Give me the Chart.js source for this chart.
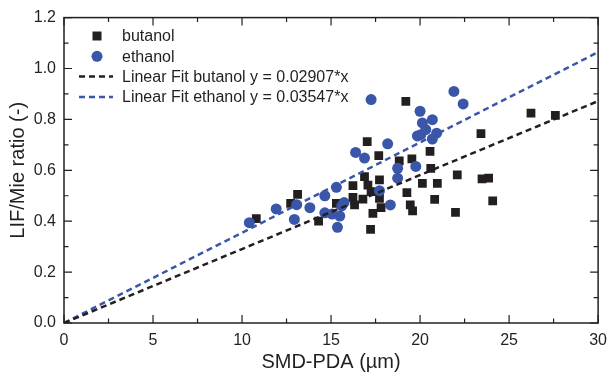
<!DOCTYPE html>
<html>
<head>
<meta charset="utf-8">
<script src="https://cdn.jsdelivr.net/npm/chart.js@4.4.1/dist/chart.umd.min.js"></script>
<style>
  html, body { margin: 0; padding: 0; background: #fff; }
</style>
</head>
<body>
<canvas id="chart" width="615" height="380"></canvas>
<script>
// datos
const butanolX = [10.8, 12.73, 13.12, 14.3, 15.3, 16.23, 16.23, 16.32, 16.79, 16.88, 17.07, 17.25, 17.72, 17.72,
  17.35, 17.81, 17.22, 19.26, 19.45, 19.58, 22.09, 23.48, 23.85, 20.13, 20.97, 20.82, 24.08, 21.99,
  26.23, 27.6, 19.2, 17.03, 17.68, 18.83, 19.54, 23.42, 20.56, 20.6];
const butanolY = [0.41, 0.47, 0.505, 0.40, 0.47, 0.54, 0.494, 0.464, 0.487, 0.575, 0.542, 0.516, 0.562, 0.49,
  0.431, 0.453, 0.368, 0.512, 0.464, 0.441, 0.582, 0.566, 0.569, 0.549, 0.549, 0.486, 0.48, 0.435,
  0.825, 0.816, 0.871, 0.713, 0.658, 0.637, 0.645, 0.744, 0.674, 0.608];

const ethanolX = [10.41, 11.92, 13.07, 12.94, 13.81, 14.65, 14.65, 15.3, 15.73, 15.06, 15.49, 15.36, 17.72,
  18.33, 18.74, 17.25, 18.18, 16.38, 16.88, 18.74, 19.76, 21.9, 22.42, 20.0, 20.69, 20.13, 20.04,
  20.32, 20.93, 20.69, 19.85, 15.6];
const ethanolY = [0.394, 0.448, 0.465, 0.407, 0.453, 0.50, 0.433, 0.533, 0.473, 0.428, 0.42, 0.376, 0.52,
  0.464, 0.569, 0.878, 0.704, 0.67, 0.648, 0.608, 0.615, 0.91, 0.861, 0.832, 0.799, 0.786, 0.74,
  0.76, 0.746, 0.723, 0.735, 0.46];

// rectas de ajuste (extremos)
const fitX = [0, 30];
const butanolFitY = [0, 0.872];
const ethanolFitY = [0, 1.064];

const seriesLabels = ['butanol', 'ethanol', 'Linear Fit butanol y = 0.02907*x', 'Linear Fit ethanol y = 0.03547*x'];
const xTicks = [0, 5, 10, 15, 20, 25, 30];
const yTicks = [0, 0.2, 0.4, 0.6, 0.8, 1.0, 1.2];

const ink = '#231f20';
const blue = '#3a56a9';
const fontFamily = '"Liberation Sans", Arial, Helvetica, sans-serif';

function toPoints(xs, ys) {
    return xs.map((x, i) => ({ x: x, y: ys[i] }));
}

// marco con marcas hacia dentro
const framePlugin = {
    id: 'frame',
    afterDraw(chart) {
        const { ctx, chartArea: a, scales } = chart;
        const x = scales.x, y = scales.y;
        ctx.save();
        ctx.strokeStyle = ink;
        ctx.lineWidth = 1.5;
        ctx.strokeRect(a.left, a.top, a.right - a.left, a.bottom - a.top);

        ctx.lineWidth = 1.2;
        ctx.beginPath();
        for (let v = 0; v <= 30.001; v += 2.5) {
            const px = x.getPixelForValue(v);
            const len = xTicks.includes(v) ? 8 : 4.5;
            ctx.moveTo(px, a.bottom); ctx.lineTo(px, a.bottom - len);
            ctx.moveTo(px, a.top); ctx.lineTo(px, a.top + len);
        }
        for (let i = 0; i <= 12; i++) {
            const v = i / 10;
            const py = y.getPixelForValue(v);
            const len = i % 2 === 0 ? 8 : 4.5;
            ctx.moveTo(a.left, py); ctx.lineTo(a.left + len, py);
            ctx.moveTo(a.right, py); ctx.lineTo(a.right - len, py);
        }
        ctx.stroke();
        ctx.restore();
    }
};

// leyenda dentro del area
const legendPlugin = {
    id: 'insideLegend',
    afterDraw(chart) {
        const ctx = chart.ctx;
        const items = [
            { type: 'rect', color: ink, text: seriesLabels[0] },
            { type: 'circle', color: blue, text: seriesLabels[1] },
            { type: 'line', color: ink, text: seriesLabels[2] },
            { type: 'line', color: blue, text: seriesLabels[3] }
        ];
        const markX = 97, textX = 122, top = 36, step = 20.3;
        ctx.save();
        ctx.font = '16px ' + fontFamily;
        ctx.textBaseline = 'middle';
        ctx.fillStyle = ink;
        items.forEach((it, i) => {
            const cy = top + i * step;
            if (it.type === 'rect') {
                ctx.fillStyle = it.color;
                ctx.fillRect(markX - 4.5, cy - 4.5, 9, 9);
            } else if (it.type === 'circle') {
                ctx.fillStyle = it.color;
                ctx.beginPath();
                ctx.arc(markX, cy, 5.5, 0, Math.PI * 2);
                ctx.fill();
            } else {
                ctx.strokeStyle = it.color;
                ctx.lineWidth = 2.5;
                ctx.setLineDash([6, 4]);
                ctx.beginPath();
                ctx.moveTo(79, cy);
                ctx.lineTo(113, cy);
                ctx.stroke();
                ctx.setLineDash([]);
            }
            ctx.fillStyle = ink;
            ctx.fillText(it.text, textX, cy + 1);
        });
        ctx.restore();
    }
};

new Chart(document.getElementById('chart'), {
    type: 'scatter',
    data: {
        datasets: [
            {
                label: seriesLabels[2],
                type: 'line',
                data: toPoints(fitX, butanolFitY),
                borderColor: ink,
                borderWidth: 2.5,
                borderDash: [6, 4],
                pointRadius: 0,
                fill: false
            },
            {
                label: seriesLabels[3],
                type: 'line',
                data: toPoints(fitX, ethanolFitY),
                borderColor: blue,
                borderWidth: 2.5,
                borderDash: [6, 4],
                pointRadius: 0,
                fill: false
            },
            {
                label: seriesLabels[1],
                data: toPoints(ethanolX, ethanolY),
                pointStyle: 'circle',
                pointRadius: 5.5,
                backgroundColor: blue,
                borderWidth: 0
            },
            {
                label: seriesLabels[0],
                data: toPoints(butanolX, butanolY),
                pointStyle: 'rect',
                pointRadius: 6.2,
                backgroundColor: ink,
                borderWidth: 0
            }
        ]
    },
    options: {
        responsive: false,
        animation: false,
        layout: { padding: { top: 17, right: 13, left: 0, bottom: 0 } },
        plugins: {
            legend: { display: false },
            tooltip: { enabled: false }
        },
        scales: {
            x: {
                type: 'linear',
                min: 0,
                max: 30,
                afterFit: s => { s.height = 57; },
                grid: { display: false, drawTicks: false },
                border: { display: false },
                afterBuildTicks: s => { s.ticks = xTicks.map(v => ({ value: v })); },
                ticks: { color: ink, padding: 8, font: { size: 16, family: fontFamily } },
                title: {
                    display: true,
                    text: 'SMD-PDA (µm)',
                    color: ink,
                    font: { size: 20, family: fontFamily },
                    padding: { top: 0, bottom: 6 }
                }
            },
            y: {
                min: 0,
                max: 1.2,
                afterFit: s => { s.width = 64; },
                grid: { display: false, drawTicks: false },
                border: { display: false },
                afterBuildTicks: s => { s.ticks = yTicks.map(v => ({ value: v })); },
                ticks: {
                    color: ink,
                    padding: 8,
                    font: { size: 16, family: fontFamily },
                    callback: v => v.toFixed(1)
                },
                title: {
                    display: true,
                    text: 'LIF/Mie ratio (-)',
                    color: ink,
                    font: { size: 20, family: fontFamily },
                    padding: { top: 6, bottom: 0 }
                }
            }
        }
    },
    plugins: [framePlugin, legendPlugin]
});
</script>
</body>
</html>
